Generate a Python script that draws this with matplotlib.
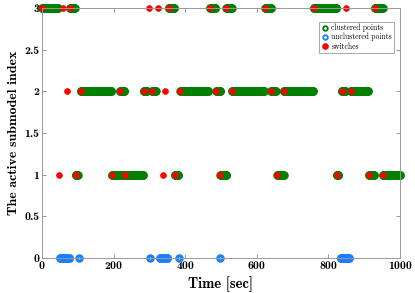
import matplotlib
matplotlib.use('Agg')
import matplotlib.pyplot as plt
import numpy as np

# clustered segments (start, end) in seconds, per submodel index
clustered_3 = [(0, 45), (78, 91), (354, 369), (469, 484), (515, 530),
               (624, 640), (759, 822), (930, 951)]
clustered_2 = [(108, 194), (218, 230), (284, 293), (307, 318), (386, 465),
               (487, 498), (531, 620), (640, 653), (675, 757), (837, 847),
               (862, 911)]
clustered_1 = [(94, 100), (196, 232), (232, 282), (371, 381), (498, 515),
               (657, 675), (823, 828), (913, 927), (952, 1000)]
# unclustered segments, all at index 0
unclustered_0 = [(50, 77), (104, 104), (302, 302), (330, 350), (382, 382),
                 (496, 496), (834, 858)]
# switch times per index
switches_3 = [0, 60, 78, 300, 325, 354, 469, 515, 624, 759, 850, 930]
switches_2 = [69, 108, 218, 284, 307, 345, 386, 487, 531, 640, 675, 837, 862]
switches_1 = [49, 94, 196, 232, 338, 371, 498, 657, 823, 913, 952]

x_ticks = [0, 200, 400, 600, 800, 1000]
y_ticks = [0, 0.5, 1, 1.5, 2, 2.5, 3]
y_tick_labels = ['0', '0.5', '1', '1.5', '2', '2.5', '3']

BOLD = 'cmb10'
REG = 'cmr10'


def expand(segments, level):
    t = np.concatenate([np.arange(a, b + 1) for a, b in segments])
    return t, np.full(len(t), level)


cl_t, cl_y = [], []
for segs, lvl in [(clustered_3, 3), (clustered_2, 2), (clustered_1, 1)]:
    t, y = expand(segs, lvl)
    cl_t.append(t)
    cl_y.append(y)
cl_t = np.concatenate(cl_t)
cl_y = np.concatenate(cl_y)
un_t, un_y = expand(unclustered_0, 0)
sw_t = np.array(switches_3 + switches_2 + switches_1)
sw_y = np.array([3] * len(switches_3) + [2] * len(switches_2) + [1] * len(switches_1))

fig = plt.figure(figsize=(4.15, 2.93), dpi=100)
ax = fig.add_axes([0.101, 0.119, 0.863, 0.854])

ax.plot(cl_t, cl_y, 'o', mfc='none', mec='green', ms=3.8, mew=2.3,
        clip_on=False, label='clustered points')
ax.plot(un_t, un_y, 'o', mfc='none', mec='#1a80ff', ms=3.8, mew=2.3,
        clip_on=False, label='unclustered points')
ax.plot(sw_t, sw_y, 'o', mfc='red', mec='red', ms=4.2, mew=0.5,
        clip_on=False, label='switches')

ax.set_xlim(0, 1000)
ax.set_ylim(0, 3)
ax.set_xticks(x_ticks)
ax.set_xticklabels([str(v) for v in x_ticks], fontfamily=BOLD, fontsize=8.5)
ax.set_yticks(y_ticks)
ax.set_yticklabels(y_tick_labels, fontfamily=BOLD, fontsize=8.5)
ax.tick_params(direction='in', length=3, width=0.6, colors='#888888',
               labelcolor='black', top=True, right=True, pad=2)
for s in ax.spines.values():
    s.set_color('#999999')
    s.set_linewidth(0.7)

ax.set_xlabel('Time [sec]', fontfamily=BOLD, fontsize=10.5, labelpad=4)
ax.set_ylabel('The active submodel index', fontfamily=BOLD, fontsize=10,
              labelpad=3)

leg = ax.legend(loc='upper right', bbox_to_anchor=(0.983, 0.944),
                borderaxespad=0, prop={'family': REG, 'size': 5.5},
                fancybox=False, framealpha=1, edgecolor='#999999',
                handletextpad=0.3, borderpad=0.25, labelspacing=0.1,
                handlelength=1.1)
leg.get_frame().set_linewidth(0.6)
for h in leg.legend_handles[:2]:
    h.set_markersize(3.3)
    h.set_markeredgewidth(1.3)

fig.savefig('out.png', dpi=100)
